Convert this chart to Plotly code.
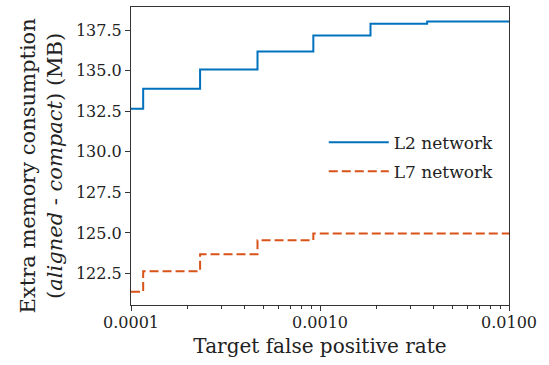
import plotly.graph_objects as go

# Step change points (target false positive rate) and levels
fpr = [1e-4, 1.16e-4, 2.32e-4, 4.67e-4, 9.22e-4, 1.85e-3, 3.69e-3, 1e-2]
l2_mem = [132.65, 133.89, 135.07, 136.19, 137.18, 137.90, 138.04, 138.04]
l7_mem = [121.38, 122.64, 123.69, 124.55, 124.97, 124.97, 124.97, 124.97]

x_tickvals = [1e-4, 1e-3, 1e-2]
x_ticktext = ["0.0001", "0.0010", "0.0100"]
y_tickvals = [122.5, 125.0, 127.5, 130.0, 132.5, 135.0, 137.5]

FONT = "'DejaVu Serif', serif"

fig = go.Figure()
fig.add_trace(go.Scatter(x=fpr, y=l2_mem, mode="lines", line_shape="hv",
                         name="L2 network", legendgroup="a",
                         line=dict(color="#0072BD", width=2)))
fig.add_trace(go.Scatter(x=fpr, y=l7_mem, mode="lines", line_shape="hv",
                         name="L7 network", legendgroup="b",
                         line=dict(color="#D95319", width=2, dash="9px,4px")))

axis_common = dict(showline=True, mirror=True, linecolor="#333", linewidth=1.2,
                   showgrid=False, zeroline=False, ticks="outside", ticklen=5,
                   tickcolor="#333", tickfont=dict(family=FONT, size=16, color="#222"))

fig.update_xaxes(type="log", range=[-4, -2], tickvals=x_tickvals, ticktext=x_ticktext,
                 ticklabelstandoff=-2,
                 title=dict(text="Target false positive rate",
                            font=dict(family=FONT, size=20, color="#222"), standoff=7),
                 minor=dict(ticks="outside", ticklen=3, tickcolor="#333", dtick="D1"),
                 **axis_common)
fig.update_yaxes(range=[120.56, 138.93], tickvals=y_tickvals, tickformat=".1f",
                 **axis_common)

fig.add_annotation(
    text="Extra memory consumption<br>(<i>aligned</i> - <i>compact</i>) (MB)",
    xref="paper", yref="paper", x=-0.238, y=0.465,
    xanchor="center", yanchor="middle", textangle=-90, showarrow=False,
    font=dict(family=FONT, size=21, color="#222"),
)

fig.update_layout(
    width=549, height=365,
    margin=dict(l=131, r=40, t=7, b=60),
    plot_bgcolor="white", paper_bgcolor="white",
    font=dict(family=FONT, color="#222"),
    legend=dict(x=0.51, y=0.605, xanchor="left", yanchor="top",
                bgcolor="rgba(0,0,0,0)", font=dict(family=FONT, size=17, color="#222"),
                itemwidth=60, tracegroupgap=4, traceorder="grouped"),
)

fig.write_html("out.html")
